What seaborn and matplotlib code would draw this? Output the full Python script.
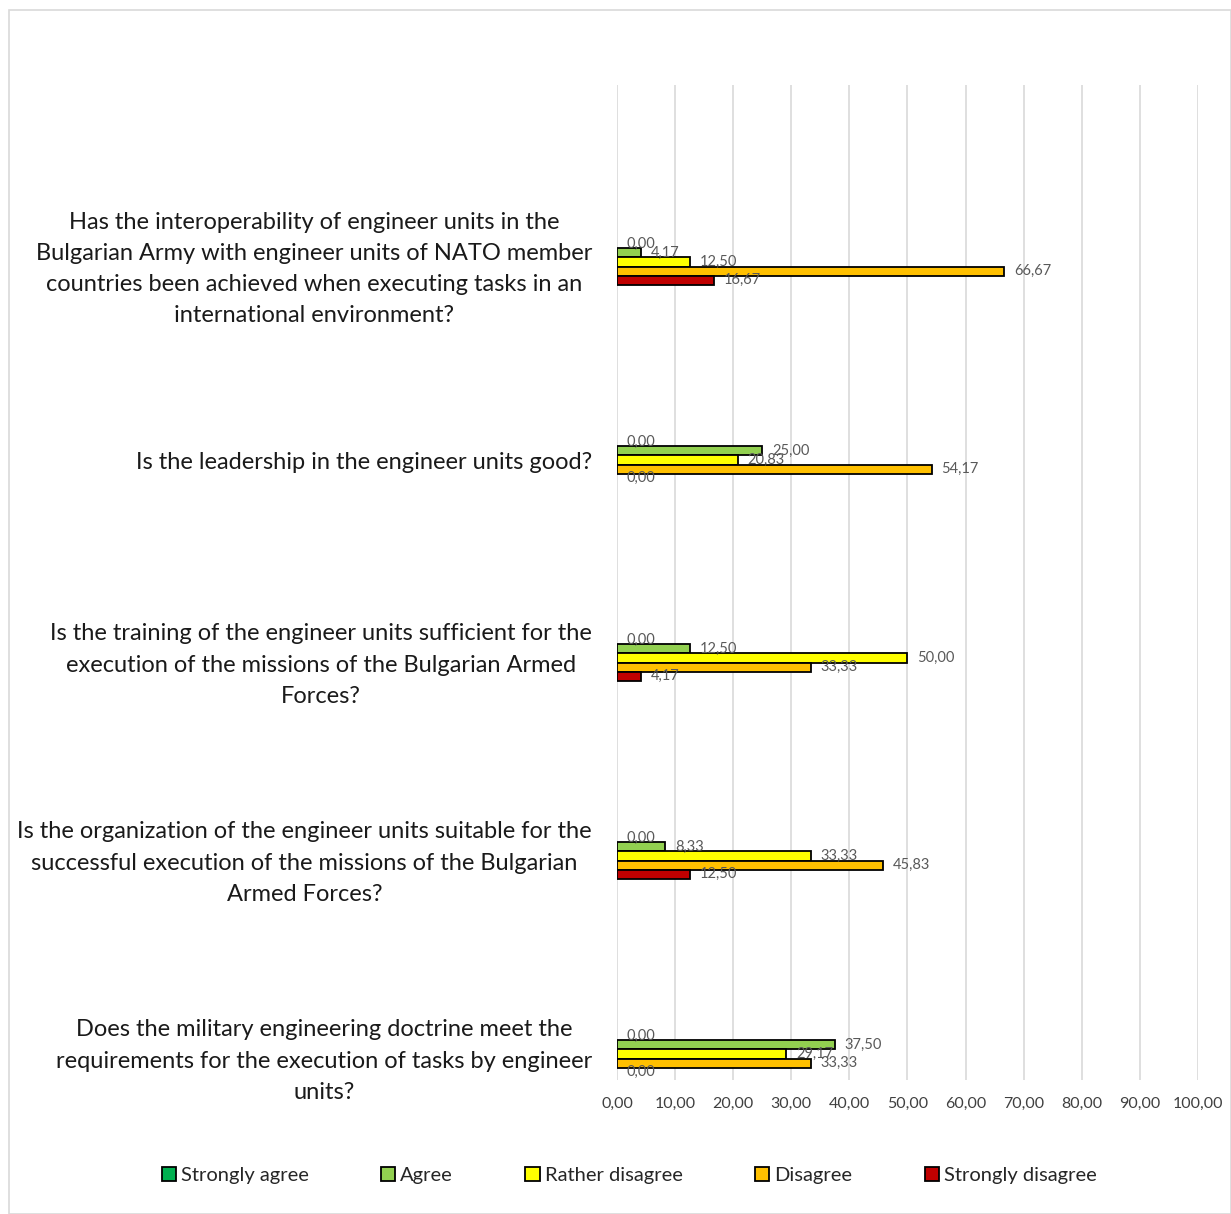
import pandas as pd
import matplotlib
matplotlib.use("Agg")
import matplotlib.pyplot as plt
import seaborn as sns

questions = [
    "Has the interoperability of engineer units in the\nBulgarian Army with engineer units of NATO member\ncountries been achieved when executing tasks in an\ninternational environment?",
    "Is the leadership in the engineer units good?",
    "Is the training of the engineer units sufficient for the\nexecution of the missions of the Bulgarian Armed\nForces?",
    "Is the organization of the engineer units suitable for the\nsuccessful execution of the missions of the Bulgarian\nArmed Forces?",
    "Does the military engineering doctrine meet the\nrequirements for the execution of tasks by engineer\nunits?",
]
responses = ["Strongly agree", "Agree", "Rather disagree", "Disagree", "Strongly disagree"]

strongly_agree = [0.00, 0.00, 0.00, 0.00, 0.00]
agree = [4.17, 25.00, 12.50, 8.33, 37.50]
rather_disagree = [12.50, 20.83, 50.00, 33.33, 29.17]
disagree = [66.67, 54.17, 33.33, 45.83, 33.33]
strongly_disagree = [16.67, 0.00, 4.17, 12.50, 0.00]

x_ticks = [0, 10, 20, 30, 40, 50, 60, 70, 80, 90, 100]
x_tick_labels = ["0,00", "10,00", "20,00", "30,00", "40,00", "50,00",
                 "60,00", "70,00", "80,00", "90,00", "100,00"]

colors = ["#00B050", "#92D050", "#FFFF00", "#FFC000", "#C00000"]

series = [strongly_agree, agree, rather_disagree, disagree, strongly_disagree]
rows = []
for resp, vals in zip(responses, series):
    for q, v in zip(questions, vals):
        rows.append({"question": q, "response": resp, "value": v})
df = pd.DataFrame(rows)

sns.set_style("white")
plt.rcParams["font.family"] = ["Lato", "DejaVu Sans"]

fig = plt.figure(figsize=(12.31, 12.14), dpi=100)
ax = fig.add_axes([0.5012, 0.1104, 0.472, 0.8196])

sns.barplot(data=df, y="question", x="value", hue="response", order=questions,
            hue_order=responses, palette=colors, saturation=1, orient="h", width=0.23,
            edgecolor="black", linewidth=1.3, errorbar=None, ax=ax)

for cont in ax.containers:
    for bar in cont:
        if bar.get_width() == 0:
            bar.set_linewidth(0)
    ax.bar_label(cont, fmt=lambda v: f"{v:.2f}".replace(".", ","), padding=7,
                 fontsize=10.5, color="#595959")

ax.set_xlim(0, 100)
ax.set_ylim(4.131, -0.894)
ax.set_xticks(x_ticks)
ax.set_xticklabels(x_tick_labels, fontsize=11.5, color="#404040")
ax.tick_params(axis="x", length=0, pad=12)
ax.tick_params(axis="y", length=0, pad=18)
for lbl in ax.get_yticklabels():
    lbl.set_fontsize(17)
    lbl.set_color("#1a1a1a")
    lbl.set_multialignment("center")
    lbl.set_linespacing(1.6)
ax.set_xlabel("")
ax.set_ylabel("")
ax.grid(axis="x", color="#D9D9D9", linewidth=1.2)
ax.set_axisbelow(True)
for s in ax.spines.values():
    s.set_visible(False)

handles, labels = ax.get_legend_handles_labels()
ax.get_legend().remove()
fig.legend(handles, labels, loc="center", bbox_to_anchor=(0.511, 0.032), ncol=5,
           frameon=False, fontsize=14.5, handlelength=0.7, handleheight=0.7,
           handletextpad=0.25, columnspacing=3.6)

fig.patches.append(plt.Rectangle((0.007, 0.0), 0.993, 0.992, transform=fig.transFigure,
                                 fill=False, edgecolor="#D9D9D9", linewidth=1.2))

fig.savefig("out.png", dpi=100)
